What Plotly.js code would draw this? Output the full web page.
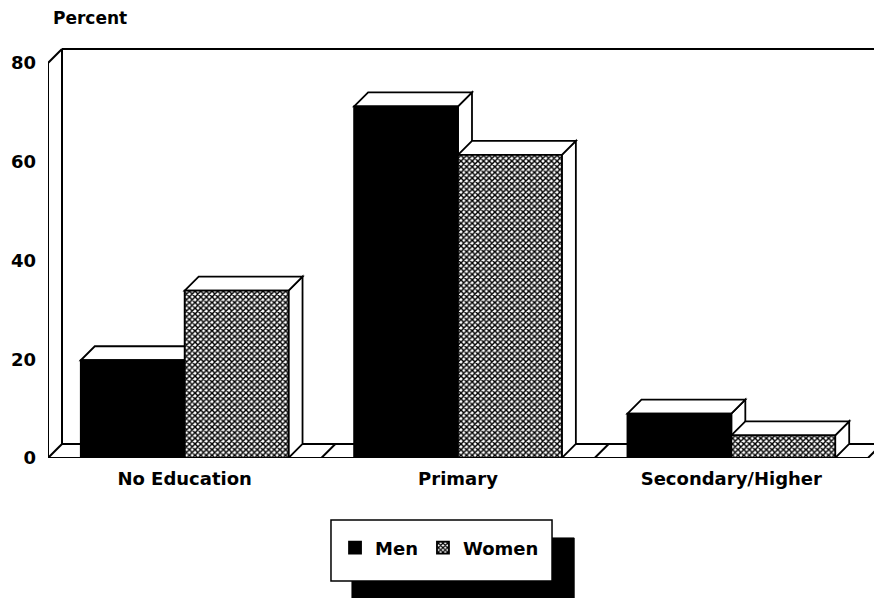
<!DOCTYPE html>
<html>
<head>
<meta charset="utf-8">
<script src="https://cdn.plot.ly/plotly-3.0.1.min.js"></script>
<style>
  html, body { margin: 0; padding: 0; background: #ffffff; }
  #chart { width: 874px; height: 598px; }
</style>
</head>
<body>
<div id="chart"></div>
<script>
// ---- data ----
var categories = ["No Education", "Primary", "Secondary/Higher"];
var menValues = [19.8, 71.2, 9.0];
var womenValues = [33.9, 61.4, 4.6];
var seriesNames = ["Men", "Women"];
var yTickValues = [0, 20, 40, 60, 80];
var yTickLabels = ["0", "20", "40", "60", "80"];

// ---- layout constants ----
var W = 874, H = 598;
var M = { l: 48, r: 0, t: 48, b: 140 };
var X_RANGE = [-0.5, 2.522];
var Y_RANGE = [0, 83.04];
var BARGAP = 0.24;
var DEPTH_PX = 14;
var FONT = "DejaVu Sans, Arial, sans-serif";

var plotW = W - M.l - M.r, plotH = H - M.t - M.b;
var dx = DEPTH_PX * (X_RANGE[1] - X_RANGE[0]) / plotW;
var dy = DEPTH_PX * (Y_RANGE[1] - Y_RANGE[0]) / plotH;
var barW = (1 - BARGAP) / 2;
var xMin = -0.5, xMax = categories.length - 0.5;
var yTop = yTickValues[yTickValues.length - 1];
var xPos = categories.map(function (c, i) { return i; });

var LINE = { color: "#000", width: 2 };
function seg(x0, y0, x1, y1) {
  return { type: "line", xref: "x", yref: "y", x0: x0, y0: y0, x1: x1, y1: y1, line: LINE, layer: "below" };
}
function poly(pts) {
  var d = "M" + pts.map(function (p) { return p[0] + "," + p[1]; }).join(" L") + " Z";
  return { type: "path", xref: "x", yref: "y", path: d, fillcolor: "#fff", line: { color: "#000", width: 1.8 }, layer: "below" };
}

var shapes = [];
// back wall top and left wall
shapes.push(seg(xMin + dx, yTop + dy, xMax + dx, yTop + dy));
shapes.push(seg(xMin, 0, xMin, yTop));
shapes.push(seg(xMin, yTop, xMin + dx, yTop + dy));
shapes.push(seg(xMin + dx, dy, xMin + dx, yTop + dy));
// floor
shapes.push(seg(xMin, 0, xMax, 0));
shapes.push(seg(xMin + dx, dy, xMax + dx, dy));
for (var b = 0; b <= categories.length; b++) {
  var xb = xMin + b;
  shapes.push(seg(xb, 0, xb + dx, dy));
}
// 3D faces of bars
var allVals = [menValues, womenValues];
for (var j = 0; j < categories.length; j++) {
  for (var s = 0; s < allVals.length; s++) {
    var v = allVals[s][j];
    var x0 = xPos[j] - barW + s * barW, x1 = x0 + barW;
    shapes.push(poly([[x1, 0], [x1 + dx, dy], [x1 + dx, v + dy], [x1, v]]));
    shapes.push(poly([[x0, v], [x0 + dx, v + dy], [x1 + dx, v + dy], [x1, v]]));
  }
}
// legend box with drop shadow (paper coords)
shapes.push({ type: "rect", xref: "paper", yref: "paper", x0: 0.368, x1: 0.637, y0: -0.36, y1: -0.195,
  fillcolor: "#000", line: { color: "#000", width: 1 }, layer: "above" });
shapes.push({ type: "rect", xref: "paper", yref: "paper", x0: 0.3426, x1: 0.6102, y0: -0.3, y1: -0.1512,
  fillcolor: "#fff", line: { color: "#000", width: 1.5 }, layer: "above" });

var traces = [
  {
    type: "bar", name: seriesNames[0], x: xPos, y: menValues,
    marker: { color: "#000", line: { color: "#000", width: 1.8 } },
    hoverinfo: "skip"
  },
  {
    type: "bar", name: seriesNames[1], x: xPos, y: womenValues,
    marker: { color: "#fff", line: { color: "#000", width: 1.8 },
      pattern: { shape: "x", size: 4, solidity: 0.6, fgcolor: "#000", bgcolor: "#fff" } },
    hoverinfo: "skip"
  }
];

var layout = {
  width: W, height: H,
  margin: M,
  paper_bgcolor: "#fff", plot_bgcolor: "rgba(0,0,0,0)",
  font: { family: FONT, size: 18, color: "#000", weight: "bold" },
  barmode: "group", bargap: BARGAP, bargroupgap: 0,
  showlegend: true,
  legend: {
    orientation: "h", x: 0.474, xanchor: "center", y: -0.2195, yanchor: "middle",
    bgcolor: "rgba(0,0,0,0)", borderwidth: 0,
    font: { family: FONT, size: 18, color: "#000", weight: "bold" },
    itemclick: false, itemdoubleclick: false, traceorder: "normal"
  },
  xaxis: {
    range: X_RANGE, tickmode: "array", tickvals: xPos, ticktext: categories,
    showgrid: false, zeroline: false, showline: false, ticks: "",
    ticklabelstandoff: 8,
    tickfont: { family: FONT, size: 18, color: "#000", weight: "bold" }
  },
  yaxis: {
    range: Y_RANGE, tickmode: "array", tickvals: yTickValues, ticktext: yTickLabels,
    showgrid: false, zeroline: false, showline: false, ticks: "",
    ticklabelstandoff: 11,
    tickfont: { family: FONT, size: 18, color: "#000", weight: "bold" }
  },
  shapes: shapes,
  annotations: [
    { text: "Percent", xref: "paper", yref: "paper", x: 0.004, y: 1.073, xanchor: "left", yanchor: "middle",
      showarrow: false, font: { family: FONT, size: 17, color: "#000", weight: "bold" } }
  ]
};

Plotly.newPlot("chart", traces, layout, { displayModeBar: false, staticPlot: true });
</script>
</body>
</html>
